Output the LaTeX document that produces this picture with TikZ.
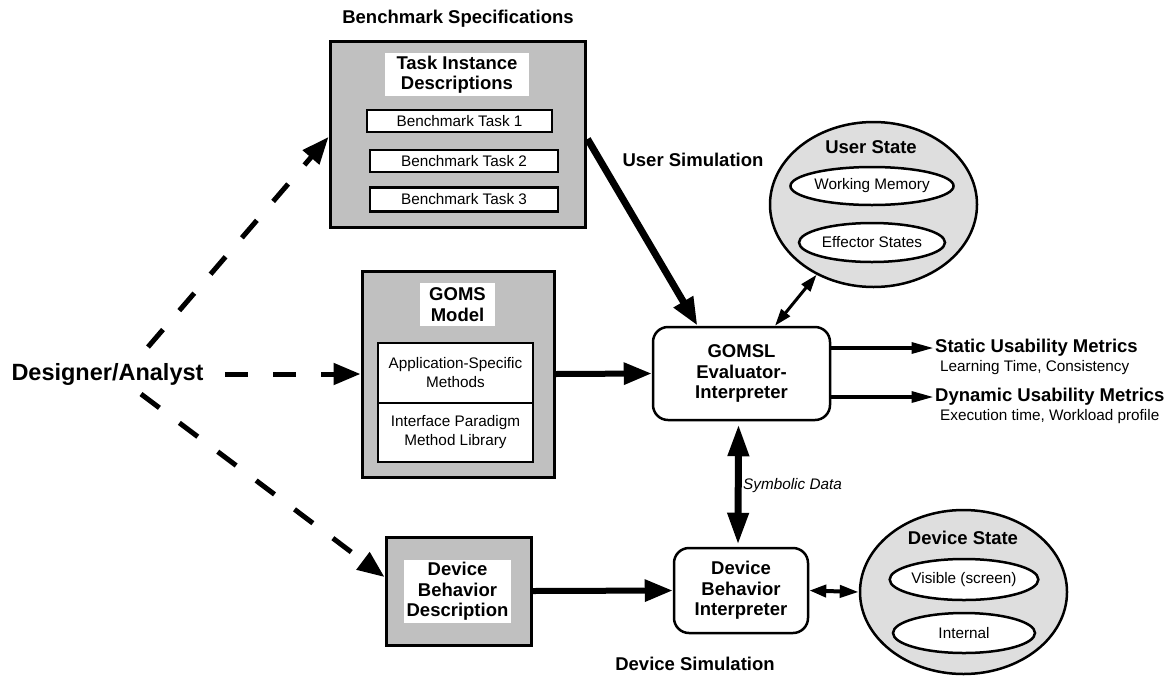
\documentclass[tikz,border=0pt]{standalone}
\usepackage{fontspec}
\setmainfont{Liberation Sans}
\usetikzlibrary{arrows.meta,shapes.geometric,calc}
\definecolor{boxgray}{HTML}{C0C0C0}
\definecolor{ovalgray}{HTML}{DEDEDE}
\newcommand\myB{\fontsize{18.5}{20.5}\selectfont\bfseries}
\newcommand\myR{\fontsize{15.3}{19}\selectfont}
\begin{document}
\begin{tikzpicture}[x=1pt,y=-1pt,
  graybox/.style={draw, line width=3pt, fill=boxgray, inner sep=0pt},
  lbl/.style={fill=white, inner sep=0pt, align=center, font=\myB},
  taskbox/.style={draw, line width=2.8pt, fill=white, inner sep=0pt, align=center, font=\myR},
  rbox/.style={draw, line width=2.5pt, rounded corners=15pt, fill=white, inner sep=0pt, align=center, font=\myB},
  oval/.style={ellipse, draw, line width=2.5pt, fill=white, inner sep=0pt, font=\myR},
  bigoval/.style={ellipse, draw, line width=2.5pt, fill=ovalgray, inner sep=0pt},
  dasharrow/.style={line width=5pt, dash pattern=on 23pt off 25pt, -{Triangle[length=27pt,width=21pt]}},
  thickarrow/.style={line width=6pt, -{Triangle[length=28pt,width=21pt]}},
  thinarrow/.style={line width=3.3pt, -{Triangle[length=22pt,width=11pt]}},
  dblsmall/.style={line width=3pt, {Triangle[length=17pt,width=11pt]}-{Triangle[length=17pt,width=11pt]}},
  dblmid/.style={line width=4pt, {Triangle[length=17pt,width=12pt]}-{Triangle[length=19pt,width=12pt]}},
  dblbig/.style={line width=7pt, {Triangle[length=32pt,width=20pt]}-{Triangle[length=32pt,width=20pt]}},
  hdr/.style={font=\myB, inner sep=0pt},
  sub/.style={font=\myR, inner sep=0pt}
]
\useasboundingbox (0,0) rectangle (1174,675);

% Benchmark specifications
\node[hdr] (spec) at (458,19) {Benchmark Specifications};
\node[graybox, minimum width=255pt, minimum height=186pt] (bench) at (457.5,134) {};
\node[lbl, minimum width=144pt, minimum height=43pt] (tid) at (457,74.5) {Task Instance\\Descriptions};
\node[taskbox, minimum width=185pt, minimum height=22pt] (t1) at (459.5,121) {Benchmark Task 1};
\node[taskbox, minimum width=188pt, minimum height=22pt] (t2) at (464,161) {Benchmark Task 2};
\node[taskbox, minimum width=188pt, minimum height=24pt] (t3) at (464,199.5) {Benchmark Task 3};

% GOMS model
\node[graybox, minimum width=192pt, minimum height=206pt] (goms) at (458,374) {};
\node[lbl, minimum width=75pt, minimum height=43pt] (gomsl) at (457.5,304.5) {GOMS\\Model};
\node[taskbox, minimum width=155pt, minimum height=60pt] (app) at (455.5,373) {Application-Specific\\Methods};
\node[taskbox, minimum width=155pt, minimum height=59pt] (ipl) at (455.5,432.5) {Interface Paradigm\\Method Library};

% Device behavior description
\node[graybox, minimum width=145pt, minimum height=108pt] (dbd) at (458.5,591) {};
\node[lbl, minimum width=107pt, minimum height=63pt] (dbdl) at (457.5,591.5) {Device\\Behavior\\Description};

% Interpreters
\node[rbox, minimum width=177pt, minimum height=93pt] (ev) at (741.5,373.5) {GOMSL\\Evaluator-\\Interpreter};
\node[rbox, minimum width=134pt, minimum height=85pt] (dbi) at (741,590.5) {Device\\Behavior\\Interpreter};

% User state
\node[bigoval, minimum width=207pt, minimum height=165pt] (us) at (873.5,204.5) {};
\node[hdr] (ust) at (871,147) {User State};
\node[oval, minimum width=146pt, minimum height=38pt] (wm) at (872,186) {Working Memory};
\node[oval, minimum width=146pt, minimum height=39pt] (es) at (872,242.5) {Effector States};

% Device state
\node[bigoval, minimum width=207pt, minimum height=164pt] (ds) at (963.5,592) {};
\node[hdr] (dst) at (963,538) {Device State};
\node[oval, minimum width=142pt, minimum height=41pt] (vis) at (964,579.5) {Visible (screen)};
\node[oval, minimum width=142pt, minimum height=40pt] (int) at (964,633) {Internal};

% Labels
\node[hdr] (usim) at (693,160) {User Simulation};
\node[hdr] (dsim) at (695,664) {Device Simulation};
\node[font=\fontsize{23.5}{26}\selectfont\bfseries, inner sep=0pt] (des) at (107.5,374) {Designer/Analyst};
\node[font=\myR\itshape, inner sep=0pt, anchor=west] (sym) at (743,486) {Symbolic Data};

\node[hdr, anchor=west, inner sep=1.5pt] (stat) at (933.5,348) {Static Usability Metrics};
\node[sub, anchor=west] (statsub) at (940,368) {Learning Time, Consistency};
\node[hdr, anchor=west, inner sep=1.5pt] (dyn) at (933.5,397) {Dynamic Usability Metrics};
\node[sub, anchor=west] (dynsub) at (940,417) {Execution time, Workload profile};

% Designer dashed connectors
\coordinate (d1) at (148,347);
\coordinate (d2) at (225,374);
\coordinate (d3) at (141,394);
\draw[dasharrow] (d1) -- ($(bench.west)+(0,3)$);
\draw[dasharrow] (d2) -- (goms.west);
\draw[dasharrow] (d3) -- ($(dbd.west)+(0,-14)$);

% Solid connectors
\draw[thickarrow, line width=7pt] ($(bench.east)+(1,5)$) -- ($(ev.north)+(-44,0)$);
\draw[thickarrow] (goms.east) -- (ev.west);
\draw[thickarrow] (dbd.east) -- (dbi.west);
\draw[dblsmall] (ev.north -| 775,0) -- (us.231);
\draw[thinarrow] ($(ev.east)+(0,-25.5)$) -- (stat.west);
\draw[thinarrow] ($(ev.east)+(0,23.5)$) -- (dyn.west);
\draw[dblbig] ($(ev.south)+(-3,3)$) -- ($(dbi.north)+(-3,-2)$);
\draw[dblmid] (dbi.east) -- (ds.west);
\end{tikzpicture}
\end{document}
